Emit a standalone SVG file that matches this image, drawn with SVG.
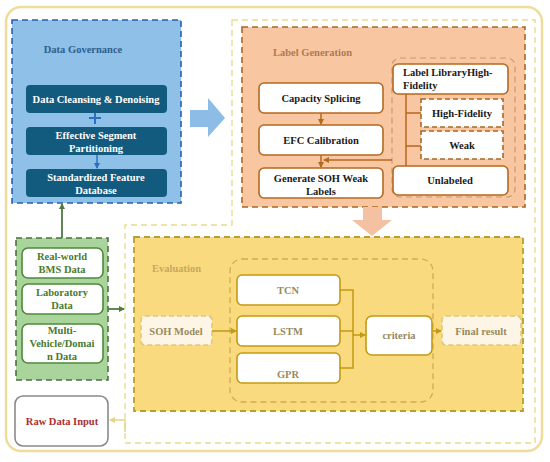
<svg xmlns="http://www.w3.org/2000/svg" width="550" height="462" viewBox="0 0 550 462">
<defs>
<style>
text{font-family:"Liberation Serif","DejaVu Serif",serif;font-weight:bold;font-size:10.5px;text-anchor:middle}
.dk{fill:#135a7f}
.wt{fill:#fff}
.lg{fill:#fff;stroke:#b5681e;stroke-width:1.6}
.lgd{fill:#fff;stroke:#a56a28;stroke-width:1.6;stroke-dasharray:5 3}
.ev{fill:#fff;stroke:#c39a12;stroke-width:1.6}
.evd{fill:#fdf6e6;stroke:#e0c878;stroke-width:1.6;stroke-dasharray:5 3}
.gr{fill:#fff;stroke:#4e8a3a;stroke-width:1.6}
.gt{fill:#4a7a2e}
.et{fill:#9a8a5c}
.bt{fill:#1a1a1a}
</style>
<marker id="ab" markerWidth="6" markerHeight="6" refX="5" refY="3" orient="auto" markerUnits="userSpaceOnUse"><path d="M0,0L6,3L0,6z" fill="#2a70c0"/></marker>
<marker id="ao" markerWidth="6" markerHeight="6" refX="5" refY="3" orient="auto" markerUnits="userSpaceOnUse"><path d="M0,0L6,3L0,6z" fill="#b5681e"/></marker>
<marker id="ay" markerWidth="6" markerHeight="6" refX="5" refY="3" orient="auto" markerUnits="userSpaceOnUse"><path d="M0,0L6,3L0,6z" fill="#c39a12"/></marker>
<marker id="ag" markerWidth="6" markerHeight="6" refX="5" refY="3" orient="auto" markerUnits="userSpaceOnUse"><path d="M0,0L6,3L0,6z" fill="#4e7a40"/></marker>
<marker id="ap" markerWidth="6" markerHeight="6" refX="5" refY="3" orient="auto" markerUnits="userSpaceOnUse"><path d="M0,0L6,3L0,6z" fill="#e6d48a"/></marker>
</defs>
<rect width="550" height="462" fill="#fff"/>
<rect x="6" y="7" width="536" height="444" rx="15" fill="none" stroke="#f0dc9a" stroke-width="2.5"/>
<path d="M232,20 H535 V443 H125 V225 H232 Z" fill="none" stroke="#e8dc90" stroke-width="1.4" stroke-dasharray="6 4"/>

<g id="data-governance">
<rect x="12" y="20" width="169" height="183" fill="#8ec0e8" stroke="#2a5fb0" stroke-width="1.6" stroke-dasharray="6 4"/>
<text x="83" y="53" fill="#2d5f8f">Data Governance</text>
</g>
<g id="data-cleansing">
<rect class="dk" x="26" y="85" width="141" height="28" rx="4"/>
<text class="wt" x="96" y="103">Data Cleansing &amp; Denoising</text>
</g>
<g id="segment-partitioning">
<rect class="dk" x="26" y="127" width="141" height="28" rx="4"/>
<text class="wt" x="96" y="139">Effective Segment</text>
<text class="wt" x="96" y="152">Partitioning</text>
</g>
<g id="feature-database">
<rect class="dk" x="26" y="169" width="141" height="28" rx="4"/>
<text class="wt" x="96" y="181">Standardized Feature</text>
<text class="wt" x="96" y="194">Database</text>
</g>
<g id="big-arrow-right">
<path d="M190,110 H208 V98 L225,118 L208,137 V127 H190 Z" fill="#8dbde6"/>
</g>

<g id="label-generation">
<rect x="242" y="27" width="283" height="180" fill="#f9c6a2" stroke="#a8672a" stroke-width="1.6" stroke-dasharray="6 4"/>
<text x="273" y="56" fill="#b07a52" style="text-anchor:start">Label Generation</text>
</g>
<g id="capacity-splicing">
<rect class="lg" x="259" y="83" width="124" height="30" rx="5"/>
<text class="bt" x="321" y="102">Capacity Splicing</text>
</g>
<g id="efc-calibration">
<rect class="lg" x="259" y="125" width="124" height="30" rx="5"/>
<text class="bt" x="321" y="144">EFC Calibration</text>
</g>
<g id="generate-weak-labels">
<rect class="lg" x="259" y="168" width="124" height="30" rx="5"/>
<text class="bt" x="321" y="182">Generate SOH Weak</text>
<text class="bt" x="321" y="195">Labels</text>
</g>
<g id="label-library-group">
<rect x="392" y="58" width="123" height="139" rx="8" fill="none" stroke="#c99a70" stroke-width="1.2" stroke-dasharray="6 4"/>
</g>
<g id="label-library">
<rect class="lg" x="393" y="64" width="115" height="30" rx="5"/>
<text class="bt" x="403" y="76" style="text-anchor:start">Label LibraryHigh-</text>
<text class="bt" x="403" y="89" style="text-anchor:start">Fidelity</text>
</g>
<g id="high-fidelity">
<rect class="lgd" x="421" y="99" width="82" height="28"/>
<text class="bt" x="462" y="117">High-Fidelity</text>
</g>
<g id="weak">
<rect class="lgd" x="421" y="131" width="82" height="28"/>
<text class="bt" x="462" y="149">Weak</text>
</g>
<g id="unlabeled">
<rect class="lg" x="393" y="166" width="115" height="29" rx="5"/>
<text class="bt" x="450" y="184">Unlabeled</text>
</g>
<g id="big-arrow-down">
<path d="M363,207 H382 V220 H392 L372,236 L352,220 H363 Z" fill="#f4c2a2"/>
</g>

<g id="evaluation">
<rect x="134" y="237" width="389" height="174" fill="#f9da7e" stroke="#b3a02e" stroke-width="1.8" stroke-dasharray="6 4"/>
<text x="152" y="272" fill="#c8a860" style="text-anchor:start">Evaluation</text>
</g>
<g id="model-group">
<rect x="230" y="259" width="203" height="143" rx="12" fill="none" stroke="#d0ac50" stroke-width="1.3" stroke-dasharray="6 4"/>
</g>
<g id="tcn">
<rect class="ev" x="237" y="275" width="103" height="30" rx="5"/>
<text class="et" x="288" y="294">TCN</text>
</g>
<g id="lstm">
<rect class="ev" x="237" y="316" width="103" height="30" rx="5"/>
<text class="et" x="288" y="335">LSTM</text>
</g>
<g id="gpr">
<rect class="ev" x="237" y="353" width="103" height="30" rx="5"/>
<text class="et" x="288" y="378">GPR</text>
</g>
<g id="criteria">
<rect class="ev" x="366" y="316" width="66" height="39" rx="6"/>
<text class="et" x="399" y="339">criteria</text>
</g>
<g id="soh-model">
<rect class="evd" x="141" y="316" width="71" height="29" rx="4"/>
<text class="et" x="176" y="335">SOH Model</text>
</g>
<g id="final-result">
<rect class="evd" x="442" y="316" width="79" height="29" rx="4"/>
<text class="et" x="481" y="335">Final result</text>
</g>

<g id="data-sources">
<rect x="16" y="238" width="92" height="142" fill="#a9d49c" stroke="#4e7040" stroke-width="1.6" stroke-dasharray="6 4"/>
</g>
<g id="bms-data">
<rect class="gr" x="22" y="248" width="81" height="30" rx="6"/>
<text class="gt" x="62" y="260">Real-world</text>
<text class="gt" x="62" y="273">BMS Data</text>
</g>
<g id="laboratory-data">
<rect class="gr" x="22" y="284" width="81" height="30" rx="6"/>
<text class="gt" x="62" y="296">Laboratory</text>
<text class="gt" x="62" y="309">Data</text>
</g>
<g id="multi-vehicle-data">
<rect class="gr" x="22" y="324" width="81" height="39" rx="6"/>
<text class="gt" x="62" y="334">Multi-</text>
<text class="gt" x="62" y="347">Vehicle/Domai</text>
<text class="gt" x="62" y="360">n Data</text>
</g>
<g id="raw-data-input">
<rect x="15" y="396" width="93" height="50" rx="8" fill="#fff" stroke="#8a8a8a" stroke-width="1.6"/>
<text x="62" y="425" fill="#a83030">Raw Data Input</text>
</g>

<g id="connectors" fill="none">
<path d="M95,113 V124 M89,118 H101" stroke="#2a70c0" stroke-width="2"/>
<path d="M97,155 V168" stroke="#2a70c0" stroke-width="1.5" marker-end="url(#ab)"/>
<path d="M321,113 V124" stroke="#b5681e" stroke-width="1.5" marker-end="url(#ao)"/>
<path d="M321,155 V167" stroke="#b5681e" stroke-width="1.5" marker-end="url(#ao)"/>
<path d="M392,160 H324" stroke="#b5681e" stroke-width="1.5" marker-end="url(#ao)"/>
<path d="M406,94 V166 M406,113 H421 M406,146 H421" stroke="#b5681e" stroke-width="1.5"/>
<path d="M212,331 H236" stroke="#c39a12" stroke-width="1.5" marker-end="url(#ay)"/>
<path d="M340,290 H353 V368 H340 M340,331 H353 M353,335 H365" stroke="#c39a12" stroke-width="1.5" marker-end="url(#ay)"/>
<path d="M432,331 H441" stroke="#c39a12" stroke-width="1.5" marker-end="url(#ay)"/>
<path d="M62,238 V204" stroke="#4e7a40" stroke-width="1.8" marker-end="url(#ag)"/>
<path d="M108,309 H124" stroke="#4e7a40" stroke-width="1.8" marker-end="url(#ag)"/>
<path d="M125,432 V420 H110" stroke="#e6d48a" stroke-width="1.4" marker-end="url(#ap)"/>
</g>
</svg>
